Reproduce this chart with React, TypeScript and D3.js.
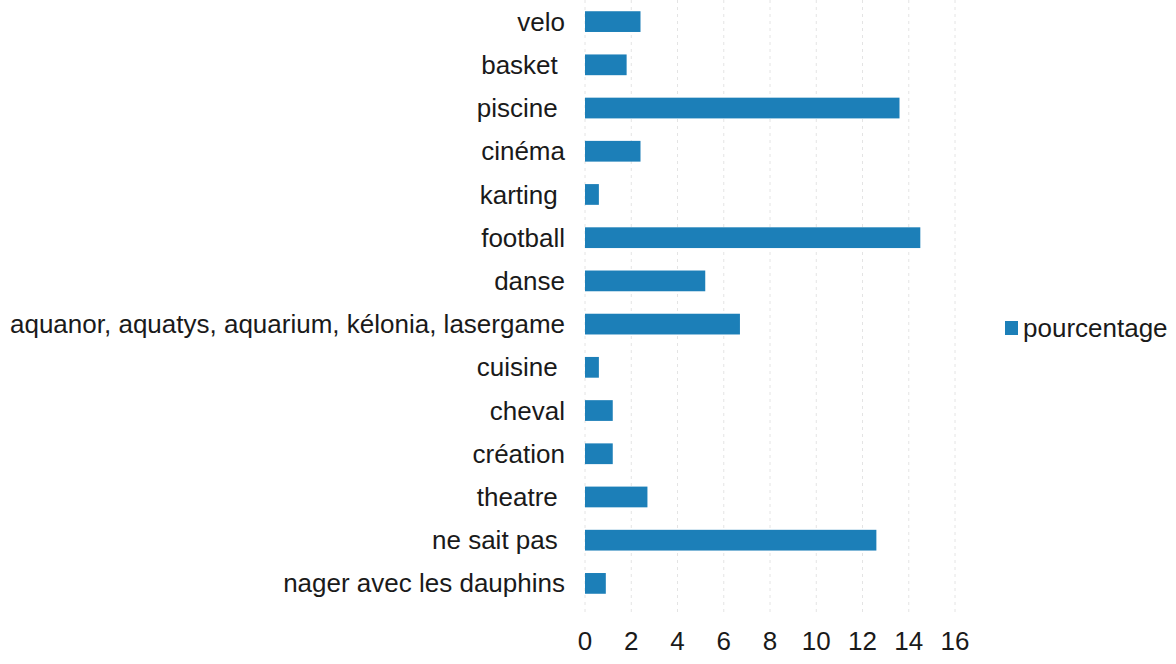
import React from "react";
import * as d3 from "d3";

const categories = [
  "velo",
  "basket ",
  "piscine ",
  "cinéma",
  "karting ",
  "football",
  "danse",
  "aquanor, aquatys, aquarium, kélonia, lasergame",
  "cuisine ",
  "cheval",
  "création",
  "theatre ",
  "ne sait pas ",
  "nager avec les dauphins",
];
const values = [2.4, 1.8, 13.6, 2.4, 0.6, 14.5, 5.2, 6.7, 0.6, 1.2, 1.2, 2.7, 12.6, 0.9];
const xTicks = [0, 2, 4, 6, 8, 10, 12, 14, 16];
const seriesName = "pourcentage";

export default function App() {
  const W = 1176, H = 664;
  const left = 585, right = 955, top = 0, bottom = 605;
  const x = d3.scaleLinear().domain([0, 16]).range([left, right]);
  const y = d3.scaleBand<string>().domain(categories).range([top, bottom]).paddingInner(0.52).paddingOuter(0.26);
  const color = "#1c7fb8";
  const font = "'Liberation Sans', Arial, sans-serif";
  const fs = 26;
  return (
    <svg width={W} height={H} style={{ position: "absolute", left: 0, top: 0, background: "#fff" }}>
      {xTicks.map((t) => (
        <line key={"g" + t} x1={x(t)} x2={x(t)} y1={top} y2={bottom + 8} stroke="#e4e4e4" strokeWidth={1} strokeDasharray="3,4" />
      ))}
      {categories.map((c, i) => (
        <rect key={c} x={x(0)} y={y(c)!} width={x(values[i]) - x(0)} height={y.bandwidth()} fill={color} />
      ))}
      {categories.map((c) => (
        <text key={"l" + c} x={565} y={y(c)! + y.bandwidth() / 2} dy="0.35em" textAnchor="end" fontFamily={font} fontSize={fs} fill="#1a1a1a" style={{ whiteSpace: "pre" }}>
          {c}
        </text>
      ))}
      {xTicks.map((t) => (
        <text key={"t" + t} x={x(t)} y={650} textAnchor="middle" fontFamily={font} fontSize={fs} fill="#1a1a1a">
          {t}
        </text>
      ))}
      <rect x={1005} y={321} width={13} height={14} fill={color} />
      <text x={1023} y={337} fontFamily={font} fontSize={fs} fill="#1a1a1a">
        {seriesName}
      </text>
    </svg>
  );
}
